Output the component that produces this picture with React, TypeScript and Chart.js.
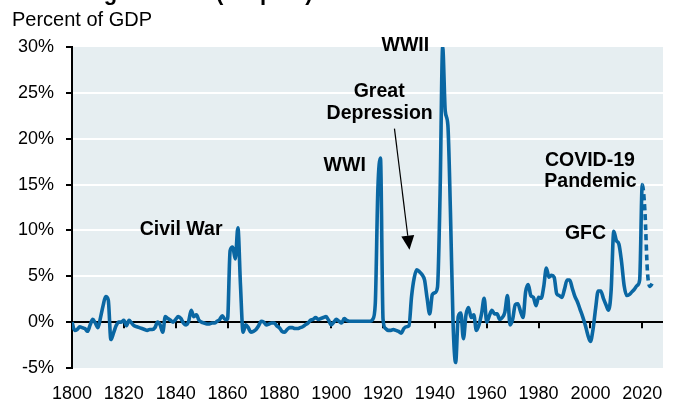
import React, { useEffect, useRef } from "react";
import { Chart, registerables } from "chart.js";

Chart.register(...registerables);

const START_YEAR = 1800;

// Budget deficit (+) / surplus (-), percent of GDP
const deficit1800s = [
  0.0, -0.9, -0.8, -0.5, -0.6, -0.7, -1.0, -0.3, 0.3, -0.1,
  -0.6, 0.5, 1.8, 2.8, 2.4, -1.9, -1.2, -0.4, 0.0, 0.0,
  0.2, -0.4, 0.2, -0.1, -0.4, -0.5, -0.6, -0.7, -0.8, -0.9,
  -0.8, -0.8, -0.6, 0.0, -0.3, -1.1, 0.6, 0.4, 0.2, 0.0,
  0.3, 0.6, 0.4, -0.1, -0.3, 0.1, 1.3, 0.6, 0.8, 0.2,
  0.0, -0.1, -0.2, -0.2, -0.1, -0.1, 0.1, 0.3, 0.7, 0.3,
  0.3, 7.8, 8.2, 6.9, 10.3, 4.0, -1.1, -0.3, -0.6, -1.1,
  -1.0, -0.8, -0.4, 0.1, 0.0, -0.3, -0.2, -0.1, -0.1, -0.4,
  -0.6, -1.0, -1.1, -0.8, -0.6, -0.6, -0.7, -0.7, -0.6, -0.5,
  -0.3, -0.1, 0.2, 0.3, 0.5, 0.3, 0.4, 0.5, 0.6, 0.2,
];

const deficit1900s = [
  -0.3, 0.0, 0.3, 0.1, -0.1, 0.4, 0.2, 0.1, 0.1, 0.1,
  0.1, 0.1, 0.1, 0.1, 0.1, 0.1, 0.3, 2.0, 14.5, 17.9,
  0.3, -0.7, -0.9, -0.9, -0.8, -0.9, -1.0, -1.2, -0.7, -0.5,
  -0.4, 2.8, 4.8, 5.7, 5.5, 5.2, 4.6, 2.6, 0.9, 3.0,
  3.2, 3.8, 14.0, 30.0, 23.0, 21.5, 12.0, 0.0, -4.4, 0.6,
  1.0, -1.8, 0.8, 1.6, 0.5, 0.8, -0.9, -0.3, 0.9, 2.6,
  0.0, 0.7, 1.3, 0.9, 0.9, 0.3, 0.5, 1.1, 2.9, -0.3,
  0.3, 1.9, 2.0, 1.2, 0.5, 3.3, 4.1, 2.9, 2.7, 1.8,
  2.7, 2.6, 3.9, 5.9, 4.9, 5.1, 4.9, 3.1, 2.9, 2.7,
  3.6, 4.6, 4.6, 3.7, 2.8, 2.2, 1.4, 0.6, -0.3, -1.4,
];

const deficit2000s = [
  -2.1, -0.8, 1.5, 3.4, 3.4, 2.6, 1.9, 1.3, 3.5, 9.9,
  8.9, 8.5, 6.6, 4.0, 2.9, 3.0, 3.3, 3.6, 4.0, 4.6,
  15.0, 12.2, 5.5, 3.9, 4.3,
];

const DASH_FROM_YEAR = 2020;

const xTickYears = [1800, 1820, 1840, 1860, 1880, 1900, 1920, 1940, 1960, 1980, 2000, 2020];
const yTickValues = [-5, 0, 5, 10, 15, 20, 25, 30];

const annotations = [
  { text: "Civil War", x: 1842.1, y: 9.5 },
  { text: "WWI", x: 1905.2, y: 16.5 },
  { text: "WWII", x: 1928.6, y: 29.6 },
  { text: "Great", x: 1918.5, y: 24.6 },
  { text: "Depression", x: 1918.7, y: 22.1 },
  { text: "COVID-19", x: 1999.8, y: 17.05 },
  { text: "Pandemic", x: 2000.0, y: 14.7 },
  { text: "GFC", x: 1998.1, y: 9.1 },
];
const arrowFrom = { x: 1924.4, y: 21.1 };
const arrowTo = { x: 1930.2, y: 7.9 };

const FONT = "'Liberation Sans', Arial, Helvetica, sans-serif";
const LINE_COLOR = "#0a67a3";
const BG_COLOR = "#e6eef1";

export default function App() {
  const canvasRef = useRef<HTMLCanvasElement | null>(null);

  useEffect(() => {
    const canvas = canvasRef.current;
    if (!canvas) return;
    const values = [...deficit1800s, ...deficit1900s, ...deficit2000s];
    const points = values.map((v, i) => ({ x: START_YEAR + i, y: v }));

    const bgPlugin = {
      id: "bg",
      beforeDraw(chart: any) {
        const { ctx, chartArea } = chart;
        ctx.save();
        ctx.fillStyle = "#ffffff";
        ctx.fillRect(0, 0, chart.width, chart.height);
        ctx.fillStyle = BG_COLOR;
        ctx.fillRect(chartArea.left, chartArea.top, chartArea.right - chartArea.left, chartArea.bottom - chartArea.top);
        ctx.restore();
      },
      beforeDatasetsDraw(chart: any) {
        const { ctx } = chart;
        const xs = chart.scales.x;
        const ys = chart.scales.y;
        const y0 = ys.getPixelForValue(0);
        ctx.save();
        ctx.strokeStyle = "#000";
        ctx.lineWidth = 2;
        xTickYears.forEach((yr) => {
          if (yr === START_YEAR) return;
          const px = Math.round(xs.getPixelForValue(yr));
          ctx.beginPath();
          ctx.moveTo(px, y0);
          ctx.lineTo(px, y0 + 6);
          ctx.stroke();
        });
        ctx.restore();
      },
      afterDraw(chart: any) {
        const { ctx } = chart;
        const xs = chart.scales.x;
        const ys = chart.scales.y;
        ctx.save();
        // cropped title
        ctx.fillStyle = "#000";
        ctx.font = `bold 22px ${FONT}`;
        ctx.textAlign = "left";
        ctx.textBaseline = "alphabetic";
        ctx.fillText("U.S. Budget Deficit (Surplus)", 12, 0);
        // subtitle
        ctx.font = `20px ${FONT}`;
        ctx.fillText("Percent of GDP", 12, 26);
        // annotations
        ctx.font = `bold 19.5px ${FONT}`;
        ctx.textAlign = "center";
        annotations.forEach((a) => {
          ctx.fillText(a.text, xs.getPixelForValue(a.x), ys.getPixelForValue(a.y));
        });
        // arrow
        const x1 = xs.getPixelForValue(arrowFrom.x);
        const y1 = ys.getPixelForValue(arrowFrom.y);
        const x2 = xs.getPixelForValue(arrowTo.x);
        const y2 = ys.getPixelForValue(arrowTo.y);
        const dx = x2 - x1;
        const dy = y2 - y1;
        const len = Math.sqrt(dx * dx + dy * dy);
        const ux = dx / len;
        const uy = dy / len;
        const headLen = 14;
        const headHalf = 6.5;
        const bx = x2 - ux * headLen;
        const by = y2 - uy * headLen;
        ctx.strokeStyle = "#000";
        ctx.lineWidth = 1.2;
        ctx.beginPath();
        ctx.moveTo(x1, y1);
        ctx.lineTo(bx, by);
        ctx.stroke();
        ctx.fillStyle = "#000";
        ctx.beginPath();
        ctx.moveTo(x2, y2);
        ctx.lineTo(bx - uy * headHalf, by + ux * headHalf);
        ctx.lineTo(bx + uy * headHalf, by - ux * headHalf);
        ctx.closePath();
        ctx.fill();
        ctx.restore();
      },
    };

    const chart = new Chart(canvas, {
      type: "line",
      data: {
        datasets: [
          {
            data: points,
            borderColor: LINE_COLOR,
            borderWidth: 3.6,
            pointRadius: 0,
            fill: false,
            cubicInterpolationMode: "monotone",
            segment: {
              borderDash: (ctx: any) => (ctx.p0.parsed.x >= DASH_FROM_YEAR ? [6, 4] : undefined),
            },
          },
        ],
      },
      options: {
        animation: false,
        responsive: false,
        maintainAspectRatio: false,
        devicePixelRatio: 1,
        layout: { padding: { left: 0, right: 18, top: 47, bottom: 0 } },
        plugins: { legend: { display: false }, tooltip: { enabled: false } },
        scales: {
          x: {
            type: "linear",
            min: 1800,
            max: 2028,
            afterBuildTicks: (scale: any) => {
              scale.ticks = xTickYears.map((v) => ({ value: v }));
            },
            afterFit: (scale: any) => {
              scale.height = 37;
            },
            grid: { display: false, drawTicks: false },
            border: { display: false },
            ticks: {
              padding: 15,
              color: "#000",
              font: { family: FONT, size: 18 },
              maxRotation: 0,
              autoSkip: false,
              callback: (v: any) => String(v),
            },
          },
          y: {
            type: "linear",
            min: -5,
            max: 30,
            afterBuildTicks: (scale: any) => {
              scale.ticks = yTickValues.map((v) => ({ value: v }));
            },
            afterFit: (scale: any) => {
              scale.width = 72;
            },
            grid: {
              color: (ctx: any) => {
                const v = ctx.tick ? ctx.tick.value : null;
                if (v === 0) return "#000";
                if (v !== null && v > 0 && v < 30) return "#ffffff";
                return "rgba(0,0,0,0)";
              },
              lineWidth: 2,
              tickColor: "#000",
              tickWidth: 2,
              tickLength: 6,
              drawTicks: true,
            },
            border: { display: true, color: "#000", width: 2 },
            ticks: {
              padding: 12,
              color: "#000",
              font: { family: FONT, size: 18 },
              callback: (v: any) => `${v}%`,
            },
          },
        },
      },
      plugins: [bgPlugin],
    } as any);

    return () => chart.destroy();
  }, []);

  return (
    <div style={{ position: "fixed", left: 0, top: 0, width: 681, height: 405, background: "#fff" }}>
      <canvas ref={canvasRef} width={681} height={405} style={{ display: "block", width: 681, height: 405 }} />
    </div>
  );
}
